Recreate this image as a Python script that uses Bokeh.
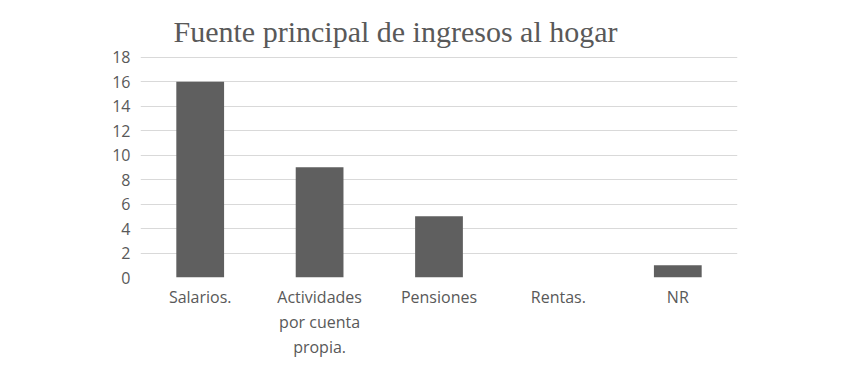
from bokeh.plotting import figure
from bokeh.models import FixedTicker, ColumnDataSource
from bokeh.embed import file_html
from bokeh.resources import INLINE

categories = ["Salarios.", "Actividades\npor cuenta\npropia.", "Pensiones", "Rentas.", "NR"]
values = [16, 9, 5, 0, 1]
y_ticks = [0, 2, 4, 6, 8, 10, 12, 14, 16, 18]
title_text = "Fuente principal de ingresos al hogar"

src = ColumnDataSource(dict(cat=categories, val=values))

p = figure(x_range=categories, y_range=(0, 18.06), width=829, height=371,
           output_backend="svg", toolbar_location=None,
           min_border_left=140, min_border_right=92, min_border_top=56,
           min_border_bottom=94)

p.vbar(x="cat", top="val", width=0.4, source=src, fill_color="#5f5f5f",
       line_color=None)

p.title.text = title_text
p.title.text_font = "Liberation Serif"
p.title.text_font_size = "30px"
p.title.text_font_style = "normal"
p.title.text_color = "#595959"
p.title.align = "left"
p.title.offset = 33
p.title.standoff = 18

p.outline_line_color = None
p.xgrid.grid_line_color = None
p.ygrid.grid_line_color = "#d9d9d9"
p.ygrid.grid_line_width = 1
p.ygrid.ticker = FixedTicker(ticks=y_ticks[1:])

p.yaxis.ticker = FixedTicker(ticks=y_ticks)
for ax in (p.xaxis, p.yaxis):
    ax.axis_line_color = None
    ax.major_tick_line_color = None
    ax.minor_tick_line_color = None
    ax.major_tick_out = 0
    ax.major_label_text_font = "Open Sans"
    ax.major_label_text_font_size = "16px"
    ax.major_label_text_color = "#595959"

p.yaxis.major_label_standoff = 10
p.xaxis.major_label_standoff = 8
p.xaxis.major_label_text_line_height = 1.15

open("out.html", "w").write(file_html(p, INLINE))
